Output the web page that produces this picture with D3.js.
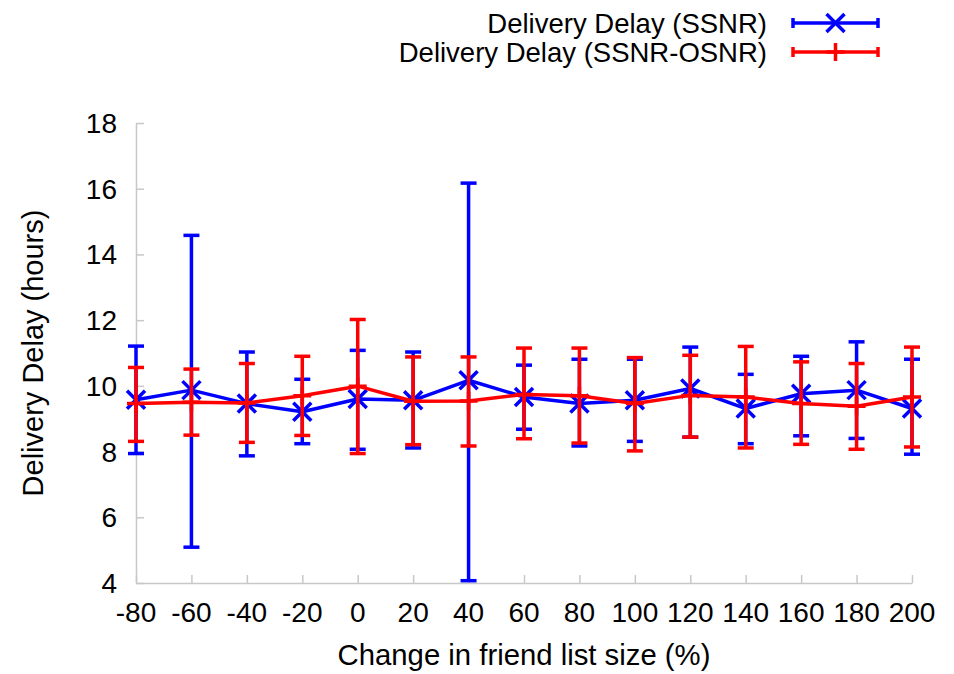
<!DOCTYPE html>
<html>
<head>
<meta charset="utf-8">
<script src="https://cdn.jsdelivr.net/npm/d3@7"></script>
<style>
  body { margin: 0; background: #fff; }
  svg text { font-family: "Liberation Sans", Arial, sans-serif; fill: #000; }
</style>
</head>
<body>
<div id="chart"></div>
<script>
// friend list size change (%)
let sizes = [-80, -60, -40, -20, 0, 20, 40, 60, 80, 100, 120, 140, 160, 180, 200];

// Delivery Delay (SSNR)
let ssnrMean = [9.58, 9.87, 9.46, 9.21, 9.60, 9.56, 10.17, 9.66, 9.46, 9.56, 9.92, 9.31, 9.76, 9.87, 9.31];
let ssnrLow = [7.94, 5.09, 7.87, 8.24, 8.07, 8.11, 4.07, 8.68, 8.17, 8.31, 8.44, 8.24, 8.48, 8.40, 7.92];
let ssnrHigh = [11.21, 14.58, 11.03, 10.20, 11.08, 11.03, 16.17, 10.63, 10.81, 10.81, 11.18, 10.35, 10.90, 11.34, 10.81];

// Delivery Delay (SSNR-OSNR)
let osnrMean = [9.46, 9.50, 9.48, 9.70, 9.99, 9.53, 9.54, 9.74, 9.70, 9.46, 9.71, 9.66, 9.46, 9.38, 9.66];
let osnrLow = [8.31, 8.50, 8.28, 8.49, 7.94, 8.21, 8.17, 8.39, 8.26, 8.02, 8.44, 8.11, 8.22, 8.07, 8.14];
let osnrHigh = [10.56, 10.51, 10.68, 10.90, 12.02, 10.88, 10.88, 11.15, 11.15, 10.86, 10.93, 11.20, 10.73, 10.68, 11.18];

let yTicks = [4, 6, 8, 10, 12, 14, 16, 18];

let seriesNames = ["Delivery Delay (SSNR)", "Delivery Delay (SSNR-OSNR)"];

let width = 954, height = 674;
let margin = { top: 123, right: 42, bottom: 91, left: 136 };

let svg = d3.select("#chart")
  .append("svg")
  .attr("width", width)
  .attr("height", height);

let x = d3.scaleLinear()
  .domain([-80, 200])
  .range([margin.left, width - margin.right]);

let y = d3.scaleLinear()
  .domain([4, 18])
  .range([height - margin.bottom, margin.top]);

let axisColor = "#c8c8c8";

// axes (ticks point inward, no labels from the axis itself)
let xAxis = svg.append("g")
  .attr("transform", "translate(0," + y(4) + ")")
  .call(d3.axisTop(x).tickValues(sizes).tickSize(8).tickFormat("").tickSizeOuter(0));

let yAxis = svg.append("g")
  .attr("transform", "translate(" + x(-80) + ",0)")
  .call(d3.axisRight(y).tickValues(yTicks).tickSize(8).tickFormat("").tickSizeOuter(0));

[xAxis, yAxis].forEach(function (g) {
  g.selectAll("path, line").attr("stroke", axisColor).attr("stroke-width", 1.5);
});

// tick labels
svg.append("g")
  .selectAll("text")
  .data(sizes)
  .enter()
  .append("text")
  .attr("x", (d) => x(d))
  .attr("y", y(4) + 39)
  .attr("text-anchor", "middle")
  .style("font-size", "28px")
  .text((d) => d);

svg.append("g")
  .selectAll("text")
  .data(yTicks)
  .enter()
  .append("text")
  .attr("x", x(-80) - 19)
  .attr("y", (d) => y(d) + 10)
  .attr("text-anchor", "end")
  .style("font-size", "28px")
  .text((d) => d);

// axis titles
svg.append("text")
  .attr("x", (x(-80) + x(200)) / 2)
  .attr("y", 665)
  .attr("text-anchor", "middle")
  .style("font-size", "29.3px")
  .text("Change in friend list size (%)");

svg.append("text")
  .attr("transform", "translate(43," + (y(4) + y(18)) / 2 + ") rotate(-90)")
  .attr("text-anchor", "middle")
  .style("font-size", "29px")
  .text("Delivery Delay (hours)");

// series drawing
let capHalf = 8;
let markSize = 9;

function crossPath(cx, cy) {
  return "M" + (cx - markSize) + "," + (cy - markSize) + "L" + (cx + markSize) + "," + (cy + markSize) +
    "M" + (cx - markSize) + "," + (cy + markSize) + "L" + (cx + markSize) + "," + (cy - markSize);
}

function plusPath(cx, cy) {
  return "M" + (cx - markSize) + "," + cy + "L" + (cx + markSize) + "," + cy +
    "M" + cx + "," + (cy - markSize) + "L" + cx + "," + (cy + markSize);
}

function drawSeries(mean, low, high, color, marker) {
  let rows = sizes.map((s, i) => ({ s: s, m: mean[i], lo: low[i], hi: high[i] }));
  let g = svg.append("g")
    .attr("stroke", color)
    .attr("stroke-width", 3.5)
    .attr("fill", "none");

  // error bars
  let bars = g.selectAll(".bar").data(rows).enter().append("g");
  bars.append("line")
    .attr("x1", (d) => x(d.s)).attr("x2", (d) => x(d.s))
    .attr("y1", (d) => y(d.lo)).attr("y2", (d) => y(d.hi));
  bars.append("line")
    .attr("x1", (d) => x(d.s) - capHalf).attr("x2", (d) => x(d.s) + capHalf)
    .attr("y1", (d) => y(d.lo)).attr("y2", (d) => y(d.lo));
  bars.append("line")
    .attr("x1", (d) => x(d.s) - capHalf).attr("x2", (d) => x(d.s) + capHalf)
    .attr("y1", (d) => y(d.hi)).attr("y2", (d) => y(d.hi));

  // mean line
  g.append("path")
    .datum(rows)
    .attr("stroke-linejoin", "round")
    .attr("d", d3.line().x((d) => x(d.s)).y((d) => y(d.m)));

  // point markers
  g.selectAll(".pt").data(rows).enter().append("path")
    .attr("d", (d) => marker(x(d.s), y(d.m)));
}

drawSeries(ssnrMean, ssnrLow, ssnrHigh, "#0000ff", crossPath);
drawSeries(osnrMean, osnrLow, osnrHigh, "#ff0000", plusPath);

// legend
let legend = [
  { name: seriesNames[0], color: "#0000ff", marker: crossPath, y: 23 },
  { name: seriesNames[1], color: "#ff0000", marker: plusPath, y: 52 }
];

let lx0 = 793, lx1 = 878;
legend.forEach(function (d) {
  svg.append("text")
    .attr("x", 767)
    .attr("y", d.y + 10)
    .attr("text-anchor", "end")
    .style("font-size", "27.5px")
    .text(d.name);

  let g = svg.append("g")
    .attr("stroke", d.color)
    .attr("stroke-width", 3.5)
    .attr("fill", "none");
  g.append("line").attr("x1", lx0).attr("x2", lx1).attr("y1", d.y).attr("y2", d.y);
  g.append("line").attr("x1", lx0).attr("x2", lx0).attr("y1", d.y - 5).attr("y2", d.y + 5);
  g.append("line").attr("x1", lx1).attr("x2", lx1).attr("y1", d.y - 5).attr("y2", d.y + 5);
  g.append("path").attr("d", d.marker((lx0 + lx1) / 2, d.y));
});
</script>
</body>
</html>
